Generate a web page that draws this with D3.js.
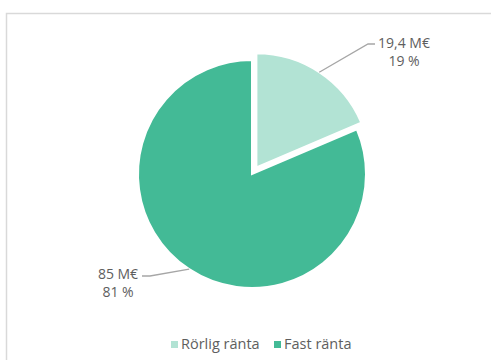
<!DOCTYPE html>
<html>
<head>
<meta charset="utf-8">
<script src="https://cdn.jsdelivr.net/npm/d3@7"></script>
<style>
  html, body { margin: 0; padding: 0; background: #fff; }
  svg { display: block; font-family: "Open Sans", "Noto Sans", sans-serif; }
</style>
</head>
<body>
<script>
// Loan portfolio split by interest type
const categories = ["Rörlig ränta", "Fast ränta"];
const amounts = [19.4, 85];            // M€
const amountLabels = ["19,4 M€", "85 M€"];
const shareLabels = ["19 %", "81 %"];
const colors = ["#b2e3d4", "#43ba96"];

const W = 491, H = 360;
const cx = 252, cy = 174, R = 114;
const explode = [8, 0];

const svg = d3.select("body").append("svg")
  .attr("width", W).attr("height", H);

// chart frame
svg.append("rect")
  .attr("x", 6.5).attr("y", 13.5)
  .attr("width", W + 10).attr("height", H + 10)
  .attr("fill", "none")
  .attr("stroke", "#d9d9d9")
  .attr("stroke-width", 1.5);

const pie = d3.pie().sort(null).value(d => d)(amounts);
const arc = d3.arc().innerRadius(0).outerRadius(R);

const g = svg.append("g").attr("transform", `translate(${cx},${cy})`);

function offset(d, i) {
  const a = (d.startAngle + d.endAngle) / 2;
  return [Math.sin(a) * explode[i], -Math.cos(a) * explode[i]];
}

g.selectAll("path.slice").data(pie).join("path")
  .attr("class", "slice")
  .attr("d", arc)
  .attr("fill", (d, i) => colors[i])
  .attr("stroke", "#fff")
  .attr("stroke-width", 2)
  .attr("transform", (d, i) => `translate(${offset(d, i)})`);

// leader lines and data labels
const labelPos = [
  { elbow: [368 - cx, 44 - cy], end: [375 - cx, 44 - cy], text: [404 - cx, 48 - cy] },
  { elbow: [150 - cx, 276 - cy], end: [142 - cx, 276 - cy], text: [118 - cx, 279 - cy] }
];

pie.forEach((d, i) => {
  const a = (d.startAngle + d.endAngle) / 2;
  const o = offset(d, i);
  const p0 = [o[0] + Math.sin(a) * R, o[1] - Math.cos(a) * R];
  const lp = labelPos[i];
  g.append("polyline")
    .attr("points", [p0, lp.elbow, lp.end].map(p => p.join(",")).join(" "))
    .attr("fill", "none")
    .attr("stroke", "#a6a6a6")
    .attr("stroke-width", 1.3);
  const t = g.append("text")
    .attr("x", lp.text[0]).attr("y", lp.text[1])
    .attr("text-anchor", "middle")
    .attr("fill", "#5e5e5e")
    .attr("font-size", 14);
  t.append("tspan").attr("x", lp.text[0]).text(amountLabels[i]);
  t.append("tspan").attr("x", lp.text[0]).attr("dy", 18).text(shareLabels[i]);
});

// legend
const legendX = [171, 274];
const lg = svg.append("g");
categories.forEach((c, i) => {
  lg.append("rect")
    .attr("x", legendX[i]).attr("y", 341)
    .attr("width", 7).attr("height", 7)
    .attr("fill", colors[i]);
  lg.append("text")
    .attr("x", legendX[i] + 10).attr("y", 349)
    .attr("fill", "#5e5e5e")
    .attr("font-size", 14.5)
    .text(c);
});
</script>
</body>
</html>
